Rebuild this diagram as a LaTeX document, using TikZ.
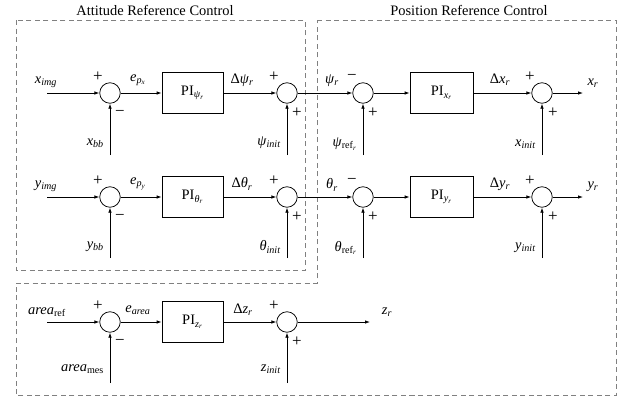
\documentclass[tikz,border=0pt]{standalone}
\usepackage{fontspec}
\setmainfont{Liberation Serif}
\usetikzlibrary{arrows.meta,calc}
\newcommand{\vi}[1]{\textit{#1}}
\newcommand{\sbs}[1]{\textsubscript{#1}}
\begin{document}
\begin{tikzpicture}[x=1bp,y=-1bp, font=\fontsize{14.5}{17}\selectfont,
 sumc/.style={circle,draw,minimum size=20.5bp,inner sep=0pt,line width=0.75bp},
 pibox/.style={draw,minimum width=61bp,minimum height=41bp,inner sep=0pt,line width=0.75bp},
 sig/.style={-{Latex[length=5bp,width=3.5bp]},line width=0.75bp},
 grp/.style={draw=gray,dash pattern=on 5bp off 3.5bp,line width=1bp},
 lab/.style={inner sep=0pt},
 sgn/.style={inner sep=0pt,font=\fontsize{17}{19}\selectfont}]
\useasboundingbox (0,0) rectangle (628,398);
% group frames
\draw[grp] (16,20) rectangle (305,270);
\draw[grp] (317,20) -- (616,20) -- (616,395) -- (16,395) -- (16,283) -- (317,283) -- cycle;
\node[lab] (tA) at (155,10) {Attitude Reference Control};
\node[lab] (tP) at (469,10) {Position Reference Control};

% ---------- row 1 ----------
\coordinate (in1) at (47,93);
\node[sumc] (s1) at (110,93) {};
\node[pibox] (p1) at (192.5,93) {PI\sbs{\vi{ψ}\sbs{\vi{r}}}};
\node[sumc] (s2) at (287,93) {};
\node[sumc] (s3) at (363,93) {};
\node[pibox,minimum width=63bp] (q1) at (441.5,93) {PI\sbs{\vi{x}\sbs{\vi{r}}}};
\node[sumc] (s4) at (542,93) {};
\coordinate (o1) at (583,93);
\coordinate (f1a) at (110,155);
\coordinate (f1b) at (287,155);
\coordinate (f1c) at (363,155);
\coordinate (f1d) at (542,155);
\draw[sig] (in1) -- (s1);
\draw[sig] (s1) -- (p1);
\draw[sig] (p1) -- (s2);
\draw[sig] (s2) -- (s3);
\draw[sig] (s3) -- (q1);
\draw[sig] (q1) -- (s4);
\draw[sig] (s4) -- (o1);
\draw[sig] (f1a) -- (s1);
\draw[sig] (f1b) -- (s2);
\draw[sig] (f1c) -- (s3);
\draw[sig] (f1d) -- (s4);
\node[lab] at (46,82) {\vi{x}\sbs{\vi{img}}};
\node[lab] at (138,80) {\vi{e}\sbs{\vi{p}\sbs{\vi{x}}}};
\node[lab] at (242,80) {Δ\vi{ψ}\sbs{\vi{r}}};
\node[lab] at (332,81) {\vi{ψ}\sbs{\vi{r}}};
\node[lab] at (500,80) {Δ\vi{x}\sbs{\vi{r}}};
\node[lab] at (593,83) {\vi{x}\sbs{\vi{r}}};
\node[lab,anchor=east] at ($(f1a)+(-6,-12)$) {\vi{x}\sbs{\vi{bb}}};
\node[lab,anchor=east] at ($(f1b)+(-6,-12)$) {\vi{ψ}\sbs{\vi{init}}};
\node[lab,anchor=east] at ($(f1c)+(-6,-11)$) {\vi{ψ}\sbs{ref\sbs{\vi{r}}}};
\node[lab,anchor=east] at ($(f1d)+(-6,-11)$) {\vi{x}\sbs{\vi{init}}};
\node[sgn] at ($(s1)+(-12,-16)$) {+};
\node[sgn] at ($(s1)+(10,20)$) {−};
\node[sgn] at ($(s2)+(-13,-16)$) {+};
\node[sgn] at ($(s2)+(10,20)$) {+};
\node[sgn] at ($(s3)+(-11,-16)$) {−};
\node[sgn] at ($(s3)+(10,20)$) {+};
\node[sgn] at ($(s4)+(-12,-16)$) {+};
\node[sgn] at ($(s4)+(11,20)$) {+};

% ---------- row 2 ----------
\coordinate (in2) at (47,197);
\node[sumc] (t1) at (110,197) {};
\node[pibox] (p2) at (192.5,197) {PI\sbs{\vi{θ}\sbs{\vi{r}}}};
\node[sumc] (t2) at (287,197) {};
\node[sumc] (t3) at (363,197) {};
\node[pibox,minimum width=63bp] (q2) at (441.5,197) {PI\sbs{\vi{y}\sbs{\vi{r}}}};
\node[sumc] (t4) at (542,197) {};
\coordinate (o2) at (583,197);
\coordinate (f2a) at (110,258);
\coordinate (f2b) at (287,258);
\coordinate (f2c) at (363,258);
\coordinate (f2d) at (542,258);
\draw[sig] (in2) -- (t1);
\draw[sig] (t1) -- (p2);
\draw[sig] (p2) -- (t2);
\draw[sig] (t2) -- (t3);
\draw[sig] (t3) -- (q2);
\draw[sig] (q2) -- (t4);
\draw[sig] (t4) -- (o2);
\draw[sig] (f2a) -- (t1);
\draw[sig] (f2b) -- (t2);
\draw[sig] (f2c) -- (t3);
\draw[sig] (f2d) -- (t4);
\node[lab] at (46,186) {\vi{y}\sbs{\vi{img}}};
\node[lab] at (138,184) {\vi{e}\sbs{\vi{p}\sbs{\vi{y}}}};
\node[lab] at (242,184) {Δ\vi{θ}\sbs{\vi{r}}};
\node[lab] at (332,185) {\vi{θ}\sbs{\vi{r}}};
\node[lab] at (500,184) {Δ\vi{y}\sbs{\vi{r}}};
\node[lab] at (593,187) {\vi{y}\sbs{\vi{r}}};
\node[lab,anchor=east] at ($(f2a)+(-6,-11)$) {\vi{y}\sbs{\vi{bb}}};
\node[lab,anchor=east] at ($(f2b)+(-6,-11)$) {\vi{θ}\sbs{\vi{init}}};
\node[lab,anchor=east] at ($(f2c)+(-6,-10)$) {\vi{θ}\sbs{ref\sbs{\vi{r}}}};
\node[lab,anchor=east] at ($(f2d)+(-6,-10)$) {\vi{y}\sbs{\vi{init}}};
\node[sgn] at ($(t1)+(-12,-16)$) {+};
\node[sgn] at ($(t1)+(10,20)$) {−};
\node[sgn] at ($(t2)+(-13,-16)$) {+};
\node[sgn] at ($(t2)+(10,20)$) {+};
\node[sgn] at ($(t3)+(-11,-16)$) {−};
\node[sgn] at ($(t3)+(10,20)$) {+};
\node[sgn] at ($(t4)+(-12,-16)$) {+};
\node[sgn] at ($(t4)+(11,20)$) {+};

% ---------- row 3 ----------
\coordinate (in3) at (47,322);
\node[sumc] (u1) at (110,322) {};
\node[pibox] (p3) at (192.5,322) {PI\sbs{\vi{z}\sbs{\vi{r}}}};
\node[sumc] (u2) at (287,322) {};
\coordinate (o3) at (370,322);
\coordinate (f3a) at (110,383);
\coordinate (f3b) at (287,383);
\draw[sig] (in3) -- (u1);
\draw[sig] (u1) -- (p3);
\draw[sig] (p3) -- (u2);
\draw[sig] (u2) -- (o3);
\draw[sig] (f3a) -- (u1);
\draw[sig] (f3b) -- (u2);
\node[lab] at (47,312) {\vi{area}\sbs{ref}};
\node[lab] at (138,310) {\vi{e}\sbs{\vi{area}}};
\node[lab] at (243,310) {Δ\vi{z}\sbs{\vi{r}}};
\node[lab] at (387,312) {\vi{z}\sbs{\vi{r}}};
\node[lab,anchor=east] at ($(f3a)+(-6,-14)$) {\vi{area}\sbs{mes}};
\node[lab,anchor=east] at ($(f3b)+(-6,-14)$) {\vi{z}\sbs{\vi{init}}};
\node[sgn] at ($(u1)+(-12,-16)$) {+};
\node[sgn] at ($(u1)+(10,20)$) {−};
\node[sgn] at ($(u2)+(-13,-16)$) {+};
\node[sgn] at ($(u2)+(10,20)$) {+};
\end{tikzpicture}
\end{document}
